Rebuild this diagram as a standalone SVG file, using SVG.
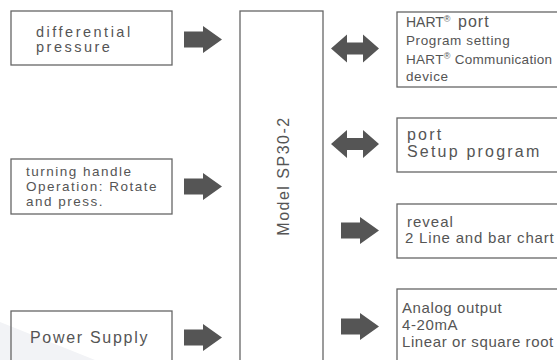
<svg xmlns="http://www.w3.org/2000/svg" width="557" height="360" viewBox="0 0 557 360">
<style>
.box{fill:none;stroke:#666;stroke-width:1.3}
.t{font-family:"Liberation Sans",Arial,sans-serif;fill:#555}
.arr{fill:#555}
</style>
<defs>
<polygon id="ra" points="0,-8 19,-8 19,-13.5 38,0 19,13.5 19,8 0,8"/>
<polygon id="da" points="0,0 16,-14 16,-6 32,-6 32,-14 48,0 32,14 32,6 16,6 16,14"/>
</defs>
<rect width="557" height="360" fill="#fff"/>
<polygon points="0,322 95,360 0,360" fill="#f2f3f6"/>

<g id="n-diffpressure">
<rect class="box" x="11" y="11" width="161" height="54"/>
<text class="t" x="36" y="37" font-size="14.5" letter-spacing="2.5">differential</text>
<text class="t" x="36" y="52" font-size="14.5" letter-spacing="2.5">pressure</text>
</g>
<g id="n-handle">
<rect class="box" x="11" y="159" width="161" height="55"/>
<text class="t" x="26" y="176" font-size="13.5" letter-spacing="1.5">turning handle</text>
<text class="t" x="26" y="191" font-size="13.5" letter-spacing="1.5">Operation: Rotate</text>
<text class="t" x="26" y="206" font-size="13.5" letter-spacing="1.5">and press.</text>
</g>
<g id="n-power">
<rect class="box" x="11" y="311" width="161" height="60"/>
<text class="t" x="30" y="343" font-size="16" letter-spacing="1.7">Power Supply</text>
</g>
<g id="n-model">
<rect class="box" x="240" y="11" width="83" height="360"/>
<text class="t" transform="translate(289,176) rotate(-90)" text-anchor="middle" font-size="16" letter-spacing="1.5">Model SP30-2</text>
</g>
<g id="n-hart">
<rect class="box" x="397" y="12" width="170" height="75"/>
<text class="t" x="406" y="27" font-size="14">HART<tspan font-size="9" dy="-5">®</tspan></text>
<text class="t" x="458" y="27" font-size="16" letter-spacing="1">port</text>
<text class="t" x="406" y="45" font-size="13.5" letter-spacing="0.6">Program setting</text>
<text class="t" x="406" y="64" font-size="13.5" letter-spacing="0.3">HART<tspan font-size="9" dy="-5">®</tspan><tspan dy="5"> Communication</tspan></text>
<text class="t" x="406" y="81" font-size="13.5" letter-spacing="0.6">device</text>
</g>
<g id="n-port">
<rect class="box" x="397" y="118" width="170" height="54"/>
<text class="t" x="407" y="140" font-size="16" letter-spacing="2.2">port</text>
<text class="t" x="407" y="157" font-size="16" letter-spacing="2.2">Setup program</text>
</g>
<g id="n-reveal">
<rect class="box" x="397" y="204" width="170" height="54"/>
<text class="t" x="407" y="227" font-size="15" letter-spacing="1">reveal</text>
<text class="t" x="405" y="243" font-size="15" letter-spacing="0.8">2 Line and bar chart</text>
</g>
<g id="n-analog">
<rect class="box" x="397" y="289" width="170" height="80"/>
<text class="t" x="402" y="313" font-size="15" letter-spacing="0.6">Analog output</text>
<text class="t" x="402" y="330" font-size="15" letter-spacing="0.6">4-20mA</text>
<text class="t" x="402" y="347" font-size="15" letter-spacing="0.6">Linear or square root</text>
</g>

<g id="connectors" class="arr">
<use href="#ra" x="184" y="39.5"/>
<use href="#ra" x="184" y="186.5"/>
<use href="#ra" x="184" y="337.5"/>
<use href="#da" x="331" y="48.5"/>
<use href="#da" x="331" y="144"/>
<use href="#ra" x="341" y="230.5"/>
<use href="#ra" x="341" y="326.5"/>
</g>
</svg>
